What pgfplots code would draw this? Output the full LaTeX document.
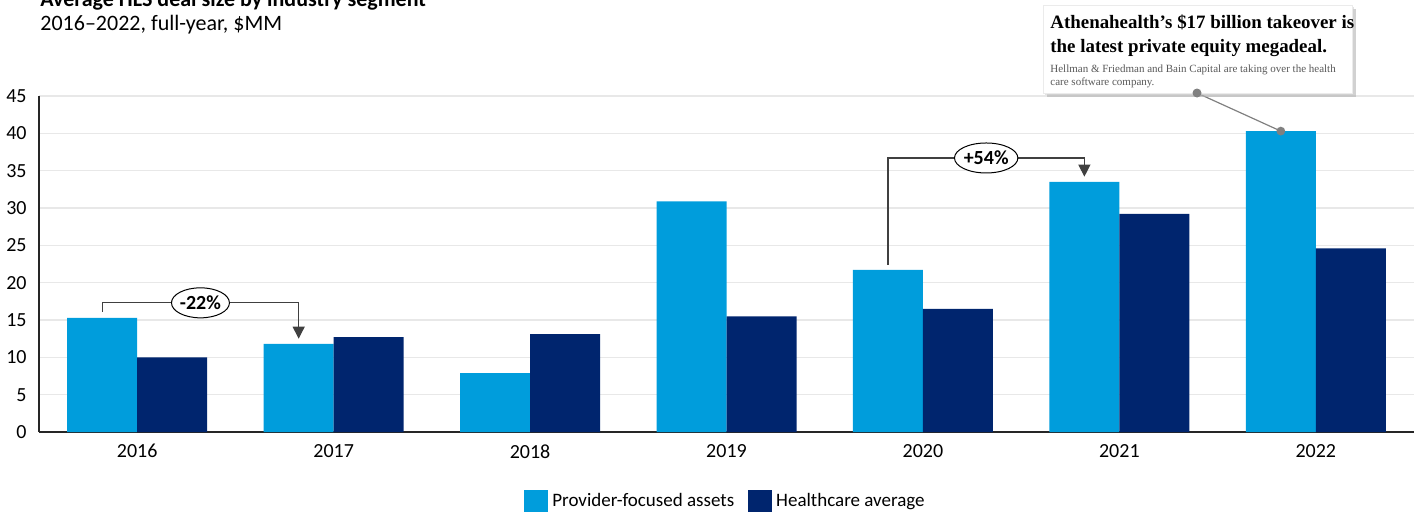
\documentclass[border=0pt]{standalone}
\usepackage{pgfplots}
\pgfplotsset{compat=1.18}
\usepackage{fontspec}
\setmainfont{Carlito}
\newfontfamily\headserif{Liberation Serif}
\usetikzlibrary{arrows.meta,shapes.geometric}
\definecolor{lightb}{HTML}{009DDC}
\definecolor{darkb}{HTML}{00256E}
\definecolor{gridc}{HTML}{E8E8E8}
\definecolor{annc}{HTML}{404040}
\begin{document}
\begin{tikzpicture}
\begin{axis}[
  at={(19.5pt,-216pt)}, anchor=south west,
  scale only axis, width=687.5pt, height=168pt,
  xmin=-0.5, xmax=6.5, ymin=0, ymax=45,
  ytick={0,5,...,45}, xtick={0,...,6},
  xticklabels={2016,2017,2018,2019,2020,2021,2022},
  ybar=0pt, bar width=35pt,
  axis x line*=bottom, axis y line*=left,
  axis line style={black!85, line width=0.6pt},
  ymajorgrids, grid style={gridc, line width=0.6pt},
  major tick length=0pt,
  /pgf/number format/assume math mode=true,
  tick label style={font=\fontsize{10}{12}\selectfont, inner sep=0pt},
  yticklabel style={xshift=-6pt},
  xticklabel style={yshift=-6pt},
  clip=false,
  legend style={at={(0.5,0)}, anchor=center, yshift=-34.5pt, draw=none, fill=none,
    font=\fontsize{9.5}{11}\selectfont, inner sep=0pt,
    /tikz/every even column/.append style={column sep=5pt}},
  legend columns=2,
  legend image code/.code={\fill[#1] (0pt,-5.5pt) rectangle (12pt,5.5pt);},
]
\addplot[fill=lightb, draw=none] coordinates {(0,15.3) (1,11.8) (2,7.9) (3,30.9) (4,21.7) (5,33.5) (6,40.3)};
\addplot[fill=darkb, draw=none] coordinates {(0,10.0) (1,12.7) (2,13.1) (3,15.5) (4,16.5) (5,29.2) (6,24.6)};
\legend{Provider-focused assets, Healthcare average}
% -22% bracket
\draw[annc, line width=0.6pt, -{Triangle[width=6pt,length=6pt]}]
  (axis cs:-0.178,16.1) -- (axis cs:-0.178,17.3) -- (axis cs:0.822,17.3) -- (axis cs:0.822,12.5);
\node[draw=black, line width=0.5pt, ellipse, fill=white, inner sep=0pt, minimum width=27.5pt, minimum height=15pt,
  font=\bfseries\fontsize{10}{12}\selectfont] at (axis cs:0.322,17.3) {-22\%};
% +54% bracket
\draw[annc, line width=0.6pt, -{Triangle[width=6pt,length=6pt]}]
  (axis cs:3.822,22.4) -- (axis cs:3.822,36.7) -- (axis cs:4.822,36.7) -- (axis cs:4.822,34.2);
\node[draw=black, line width=0.5pt, ellipse, fill=white, inner sep=0pt, minimum width=30pt, minimum height=15pt,
  font=\bfseries\fontsize{10}{12}\selectfont] at (axis cs:4.322,36.7) {+54\%};
\coordinate (bartop) at (axis cs:5.822,40.3);
\end{axis}
\begin{scope}[x=0.5pt,y=-0.5pt]
  % titles
  \node[anchor=base west, inner sep=0pt, font=\bfseries\fontsize{11}{13}\selectfont] at (40,6) {Average HLS deal size by industry segment};
  \node[anchor=base west, inner sep=0pt, font=\fontsize{11}{13}\selectfont] at (40,30) {2016–2022, full-year, \$MM};
  % connector
  \draw[black!50, line width=0.6pt] (1197,93) -- (bartop);
  % callout box
  \fill[black!30, opacity=0.6] (1047,9) rectangle (1356,97);
  \fill[black!18, opacity=0.6] (1045,7) rectangle (1354,95);
  \fill[white] (1043,5) rectangle (1352,93);
  \draw[black!8, line width=0.4pt] (1043,5) rectangle (1352,93);
  \fill[black!50] (1197,93) circle (4.5);
  \fill[black!50] (bartop) circle (2.2pt);
  \node[anchor=base west, inner sep=0pt, font=\headserif\bfseries\fontsize{9.45}{11}\selectfont] at (1050,28) {Athenahealth’s \$17 billion takeover is};
  \node[anchor=base west, inner sep=0pt, font=\headserif\bfseries\fontsize{9.45}{11}\selectfont] at (1050,52) {the latest private equity megadeal.};
  \node[anchor=base west, inner sep=0pt, text=black!65, font=\headserif\fontsize{5.5}{6}\selectfont] at (1050,72) {Hellman \& Friedman and Bain Capital are taking over the health};
  \node[anchor=base west, inner sep=0pt, text=black!65, font=\headserif\fontsize{5.5}{6}\selectfont] at (1050,85) {care software company.};
\end{scope}
\pgfresetboundingbox
\path[use as bounding box] (0,0) rectangle (709pt,-257pt);
\end{tikzpicture}
\end{document}
